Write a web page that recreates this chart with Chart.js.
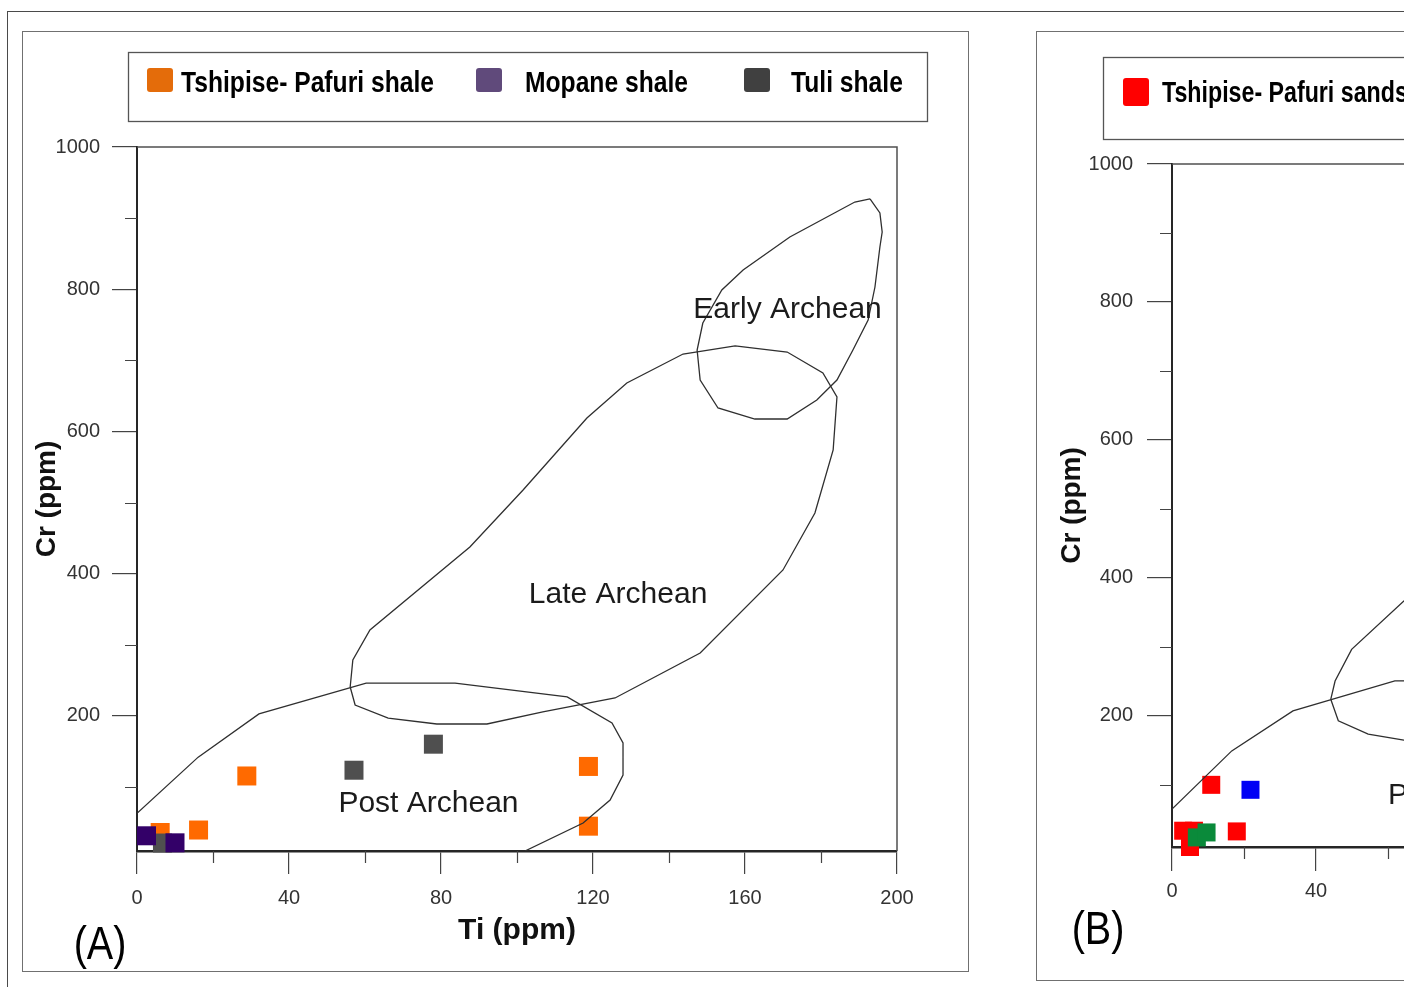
<!DOCTYPE html>
<html>
<head>
<meta charset="utf-8">
<title>Ti vs Cr provenance fields</title>
<script src="https://cdn.jsdelivr.net/npm/chart.js@4.4.0/dist/chart.umd.min.js"></script>
<style>
  html, body { margin: 0; padding: 0; background: #fff; overflow: hidden; }
  body { width: 1404px; height: 987px; position: relative; }
  #outer { position: absolute; left: 7px; top: 11px; width: 2100px; height: 1100px; border: 1px solid #4a4a4a; }
  .panel { position: absolute; border: 1px solid #707070; background: #fff; }
  #panelA { left: 22px; top: 31px; }
  #panelB { left: 1036px; top: 31px; }
  canvas { display: block; }
</style>
</head>
<body>
<div id="outer"></div>
<div class="panel" id="panelA"><canvas id="chartA" width="945" height="939"></canvas></div>
<div class="panel" id="panelB"><canvas id="chartB" width="945" height="948"></canvas></div>
<script>
'use strict';

// axis values
const tiTicks = [0, 40, 80, 120, 160, 200];
const tiMinor = [20, 60, 100, 140, 180];
const crTicks = [200, 400, 600, 800, 1000];
const crMinor = [100, 300, 500, 700, 900];
const crMin = 10;

// (A) shales: Ti (ppm) / Cr (ppm)
const shaleLabels = ['Tshipise- Pafuri shale', 'Mopane shale', 'Tuli shale'];
const tshipiseShaleTi = [6.1, 16.2, 28.9, 118.8, 118.8];
const tshipiseShaleCr = [36, 39.5, 115.5, 128.9, 44.9];
const mopaneShaleTi = [2.5, 10.0];
const mopaneShaleCr = [31.4, 21.5];
const tuliShaleTi = [6.7, 57.1, 78.0];
const tuliShaleCr = [21.2, 123.6, 160.2];

// (B) sandstones
const sandLabels = ['Tshipise- Pafuri sandstone', 'Mopane sandstone', 'Tuli sandstone'];
const tshipiseSandTi = [3.1, 6.1, 5.0, 18.0, 10.9];
const tshipiseSandCr = [33.6, 33.6, 10, 32.6, 100.1];
const mopaneSandTi = [21.8];
const mopaneSandCr = [92.9];
const tuliSandTi = [6.9, 9.6];
const tuliSandCr = [23.9, 31.1];

// field boundaries
const fieldNames = ['Post Archean', 'Late Archean', 'Early Archean'];
const postArcheanTi = [0, 16.1, 32.1, 60.3, 83.7, 113.2, 125, 127.9, 127.9, 124.5, 117.4, 102.1];
const postArcheanCr = [63, 142, 202.7, 246, 246, 226.6, 190, 161.9, 116.9, 81.7, 49.4, 10];
const lateArcheanTi = [56.1, 57.4, 66.1, 78.9, 92.1, 106.8, 125.8, 148.2, 170, 178.4, 183.2, 184.2,
  180.5, 171.1, 157.4, 143.7, 128.9, 118.4, 101.6, 87.6, 61.3, 56.8, 56.1];
const lateArcheanCr = [240.6, 215.3, 197, 188.6, 188.6, 205.5, 225.2, 288.4, 405.2, 485.3, 573.9, 648.4,
  682.2, 711.7, 720.2, 708.9, 668.1, 618.9, 517.7, 437.5, 320.8, 278.6, 240.6];
const earlyArcheanTi = [192.9, 195.5, 196.1, 195.5, 194.2, 192.4, 188.4, 184.2, 178.9, 171.1, 162.6,
  152.9, 148.2, 147.4, 148.9, 153.9, 159.5, 171.8, 188.9, 192.9];
const earlyArcheanCr = [926.9, 907.2, 880.5, 859.4, 803.1, 756.7, 714.5, 672.3, 644.2, 617.5, 617.5,
  633, 672.3, 714.5, 752.5, 798.9, 827, 873.4, 922.6, 926.9];

// the sandstone plot uses its own tracing of the fields
const postArcheanTiB = [0, 16.6, 33.6, 61.9, 84, 113, 125, 128, 128, 124.5, 117, 102];
const postArcheanCrB = [65, 149.3, 207.2, 250.7, 251, 231, 195, 165, 118, 82, 50, 10];
const lateArcheanTiB = [44.1, 46.2, 54.5, 64.4, 78, 92, 106, 124, 146, 168, 177, 182, 183, 179,
  170, 156, 142, 127, 116, 99, 85, 64.4, 49.9, 45.3, 44.1];
const lateArcheanCrB = [224.1, 192.9, 173.5, 164.8, 160, 162, 180, 205, 270, 390, 470, 560, 635, 670,
  700, 708, 698, 655, 605, 505, 425, 366.7, 296.5, 250.6, 224.1];

// colours
const shaleColors = ['#FF6A00', '#330068', '#4F4F4F'];
const shaleKeyColors = ['#E46C0A', '#604A7B', '#404040'];
const sandColors = ['#FF0000', '#0000F5', '#0A8A3A'];

Chart.defaults.font.family = '"Liberation Sans", Arial, sans-serif';
Chart.defaults.color = '#333';

// narrow lettering for the key and the panel letter
function squeezedText(ctx, text, x, y, sx) {
  ctx.save();
  ctx.translate(x, y);
  ctx.scale(sx, 1);
  ctx.fillText(text, 0, 0);
  ctx.restore();
}

// frame, minor ticks, field names, key box and panel letter
const panelDecor = {
  id: 'panelDecor',
  beforeDatasetsDraw(chart) {
    const {ctx, chartArea: a} = chart;
    ctx.save();
    ctx.strokeStyle = '#505050';
    ctx.lineWidth = 1.5;
    ctx.beginPath();
    ctx.moveTo(a.left, a.top);
    ctx.lineTo(a.right, a.top);
    ctx.lineTo(a.right, a.bottom);
    ctx.stroke();
    ctx.restore();
  },
  afterDraw(chart, args, opts) {
    const {ctx, scales: {x, y}} = chart;
    ctx.save();

    ctx.strokeStyle = '#444';
    ctx.lineWidth = 1.2;
    ctx.beginPath();
    tiMinor.forEach(v => {
      const px = Math.round(x.getPixelForValue(v)) + 0.5;
      ctx.moveTo(px, x.top);
      ctx.lineTo(px, x.top + opts.minorTick);
    });
    crMinor.forEach(v => {
      const py = Math.round(y.getPixelForValue(v)) + 0.5;
      ctx.moveTo(y.right, py);
      ctx.lineTo(y.right - opts.minorTick, py);
    });
    ctx.stroke();

    ctx.fillStyle = '#1b1b1b';
    ctx.font = '30px "Liberation Sans", Arial, sans-serif';
    ctx.textAlign = 'center';
    ctx.textBaseline = 'middle';
    fieldNames.forEach((name, i) => {
      const [tx, ty] = opts.fieldText[i];
      ctx.fillText(name, x.getPixelForValue(tx), y.getPixelForValue(ty));
    });

    const k = opts.key;
    ctx.strokeStyle = '#555';
    ctx.lineWidth = 1.3;
    ctx.strokeRect(k.left + 0.5, k.top + 0.5, k.width, k.height);
    ctx.font = 'bold 29px "Liberation Sans", Arial, sans-serif';
    ctx.textAlign = 'left';
    ctx.textBaseline = 'alphabetic';
    k.labels.forEach((label, i) => {
      ctx.fillStyle = k.colors[i];
      ctx.beginPath();
      ctx.roundRect(k.boxX[i], k.boxY, k.boxW, k.boxH, 3);
      ctx.fill();
      ctx.fillStyle = '#000';
      squeezedText(ctx, label, k.textX[i], k.baseline, k.squeeze);
    });

    ctx.font = '46px "Liberation Sans", Arial, sans-serif';
    ctx.textAlign = 'center';
    ctx.textBaseline = 'middle';
    ctx.fillStyle = '#000';
    squeezedText(ctx, opts.tag.text, opts.tag.x, opts.tag.y, 0.86);
    ctx.restore();
  }
};

function points(xs, ys) {
  return xs.map((v, i) => ({x: v, y: ys[i]}));
}

function sampleSet(label, xs, ys, color, side, order) {
  const r = side / Math.SQRT2;
  return {
    label, data: points(xs, ys), pointStyle: 'rect', pointRadius: r, pointHoverRadius: r,
    backgroundColor: color, borderWidth: 0, showLine: false, clip: false, order
  };
}

function boundarySet(label, xs, ys) {
  return {
    label, data: points(xs, ys), showLine: true, pointRadius: 0, pointHoverRadius: 0,
    borderColor: '#2f2f2f', borderWidth: 1.3, tension: 0, fill: false, order: 0
  };
}

function drawPanel(id, datasets, p) {
  return new Chart(document.getElementById(id), {
    type: 'scatter',
    data: {datasets},
    options: {
      responsive: false,
      animation: false,
      events: [],
      layout: {autoPadding: false, padding: {left: 0, top: p.top, right: p.right, bottom: 0}},
      scales: {
        x: {
          type: 'linear', min: 0, max: 200, z: 1,
          afterBuildTicks: s => { s.ticks = tiTicks.map(v => ({value: v})); },
          afterFit: s => { s.height = p.xHeight; },
          grid: {drawOnChartArea: false, drawTicks: true, tickLength: p.xTick, color: '#444', lineWidth: 1.2},
          border: {display: true, color: '#262626', width: 2.5},
          ticks: {padding: p.xPad, color: '#333', font: {size: 20}, maxRotation: 0, autoSkip: false,
            callback: v => String(v)},
          title: {display: true, text: 'Ti (ppm)', color: '#111', font: {size: 30, weight: 'bold'},
            padding: {top: 0, bottom: p.xTitlePad}}
        },
        y: {
          type: 'linear', min: crMin, max: 1000,
          afterBuildTicks: s => { s.ticks = crTicks.map(v => ({value: v})); },
          afterFit: s => { s.width = p.yWidth; },
          grid: {drawOnChartArea: false, drawTicks: true, tickLength: p.yTick, color: '#444', lineWidth: 1.2},
          border: {display: true, color: '#262626', width: 2},
          ticks: {padding: p.yPad, color: '#333', font: {size: 20}, autoSkip: false,
            callback: v => String(v)},
          title: {display: true, text: 'Cr (ppm)', color: '#111', font: {size: 28, weight: 'bold'},
            padding: {top: p.yTitlePad, bottom: 0}}
        }
      },
      plugins: {legend: {display: false}, tooltip: {enabled: false}, panelDecor: p.decor}
    },
    plugins: [panelDecor]
  });
}

drawPanel('chartA', [
  boundarySet(fieldNames[0], postArcheanTi, postArcheanCr),
  boundarySet(fieldNames[1], lateArcheanTi, lateArcheanCr),
  boundarySet(fieldNames[2], earlyArcheanTi, earlyArcheanCr),
  sampleSet(shaleLabels[0], tshipiseShaleTi, tshipiseShaleCr, shaleColors[0], 19, 3),
  sampleSet(shaleLabels[1], mopaneShaleTi, mopaneShaleCr, shaleColors[1], 19, 1),
  sampleSet(shaleLabels[2], tuliShaleTi, tuliShaleCr, shaleColors[2], 19, 2)
], {
  top: 115, right: 71, xHeight: 120, yWidth: 114,
  xTick: 23, yTick: 25, xPad: 12, yPad: 12, xTitlePad: 22, yTitlePad: 7,
  decor: {
    minorTick: 12,
    fieldText: [[76.7, 76.1], [126.6, 370], [171.2, 770.8]],
    key: {left: 105, top: 20, width: 799, height: 69, boxX: [124, 453, 721], boxY: 36, boxW: 26, boxH: 24,
      textX: [158, 502, 768], baseline: 60, squeeze: 0.85, labels: shaleLabels, colors: shaleKeyColors},
    tag: {text: '(A)', x: 77, y: 914}
  }
});

drawPanel('chartB', [
  boundarySet(fieldNames[0], postArcheanTiB, postArcheanCrB),
  boundarySet(fieldNames[1], lateArcheanTiB, lateArcheanCrB),
  boundarySet(fieldNames[2], earlyArcheanTi, earlyArcheanCr),
  sampleSet(sandLabels[0], tshipiseSandTi, tshipiseSandCr, sandColors[0], 18, 3),
  sampleSet(sandLabels[1], mopaneSandTi, mopaneSandCr, sandColors[1], 18, 2),
  sampleSet(sandLabels[2], tuliSandTi, tuliSandCr, sandColors[2], 18, 1)
], {
  top: 132, right: 90, xHeight: 133, yWidth: 135,
  xTick: 24, yTick: 25, xPad: 8, yPad: 14, xTitlePad: 22, yTitlePad: 18,
  decor: {
    minorTick: 12,
    fieldText: [[85, 85], [112, 340], [171.2, 770.8]],
    key: {left: 66, top: 25, width: 800, height: 82, boxX: [86, 470, 700], boxY: 46, boxW: 26, boxH: 28,
      textX: [125, 510, 740], baseline: 70, squeeze: 0.8, labels: sandLabels, colors: sandColors},
    tag: {text: '(B)', x: 61, y: 899}
  }
});
</script>
</body>
</html>
